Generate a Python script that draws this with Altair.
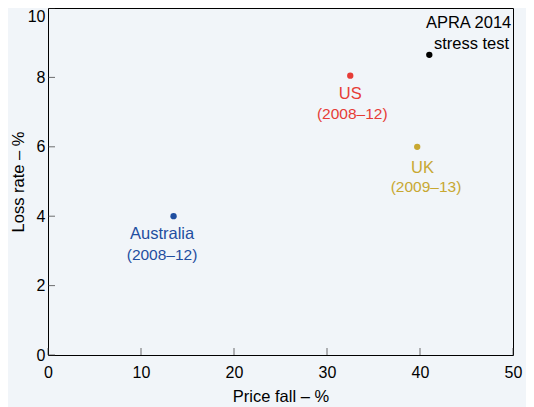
import altair as alt
import pandas as pd

# ---- data ----
regions = ["Australia", "US", "UK", "APRA 2014"]
periods = ["(2008–12)", "(2008–12)", "(2009–13)", "stress test"]
price_fall = [13.5, 32.5, 39.7, 41.0]
loss_rate = [4.0, 8.05, 6.0, 8.65]
x_ticks = [0, 10, 20, 30, 40, 50]
y_ticks = [0, 2, 4, 6, 8, 10]

colors = ["#1f4ea0", "#e63c37", "#c8a832", "#000000"]

df = pd.DataFrame({"region": regions, "period": periods,
                   "price": price_fall, "loss": loss_rate})
xt = pd.DataFrame({"v": x_ticks})
yt = pd.DataFrame({"v": y_ticks})

W, H = 465, 347
FONT = "Liberation Sans"
BG = "#f1f5f9"

xs = alt.Scale(domain=[0, 50], nice=False, zero=False)
ys = alt.Scale(domain=[0, 10], nice=False, zero=False)

xaxis = alt.Axis(values=x_ticks, title="Price fall – %", labelPadding=9,
                 titlePadding=8, format="d", labelFlush=False)
yaxis = alt.Axis(values=y_ticks, title="Loss rate – %", labelPadding=3,
                 titlePadding=1, format="d", labelFlush=False,
                 labelBaseline={"expr": "datum.value == 10 ? 'top' : 'middle'"})

points = alt.Chart(df).mark_circle(size=40, opacity=1).encode(
    x=alt.X("price:Q", scale=xs, axis=xaxis),
    y=alt.Y("loss:Q", scale=ys, axis=yaxis),
    color=alt.Color("region:N", scale=alt.Scale(domain=regions, range=colors),
                    legend=None),
)

# label styling per region: (dx_name, dy_name, dx_period, dy_period)
label_style = {
    "Australia": (-11.5, 23, -11.5, 43.3),
    "US": (0, 23.5, 2, 43.3),
    "UK": (5.3, 25.7, 8.8, 44.7),
    "APRA 2014": (39.3, -27.3, 42.2, -5.7),
}

layers = [points]
for r, c in zip(regions, colors):
    dxn, dyn, dxp, dyp = label_style[r]
    sub = alt.Chart(df).transform_filter(alt.datum.region == r)
    name_size = 16.5
    per_size = 16.5 if r == "APRA 2014" else 15.5
    layers.append(sub.mark_text(dx=dxn, dy=dyn, baseline="alphabetic", align="center",
                                font=FONT, fontSize=name_size, color=c).encode(
        x=alt.X("price:Q", scale=xs), y=alt.Y("loss:Q", scale=ys), text="region:N"))
    layers.append(sub.mark_text(dx=dxp, dy=dyp, baseline="alphabetic", align="center",
                                font=FONT, fontSize=per_size, color=c).encode(
        x=alt.X("price:Q", scale=xs), y=alt.Y("loss:Q", scale=ys), text="period:N"))

# inward ticks
ytick_marks = alt.Chart(yt).mark_tick(orient="horizontal", size=7, thickness=1,
                                      color="#333333").encode(
    y=alt.Y("v:Q", scale=ys), x=alt.value(3.5))
xtick_marks = alt.Chart(xt).mark_tick(orient="vertical", size=7, thickness=1,
                                      color="#333333").encode(
    x=alt.X("v:Q", scale=xs), y=alt.value(H - 3.5))
layers += [ytick_marks, xtick_marks]

chart = alt.layer(*layers).properties(
    width=W, height=H,
    autosize=alt.AutoSizeParams(type="none"),
    padding={"left": 40, "top": 0, "right": 13, "bottom": 52},
    background=BG,
).configure_view(
    stroke="#000000", strokeWidth=1, fill=BG,
).configure_axis(
    grid=False, ticks=False, domain=False,
    labelFont=FONT, labelFontSize=16, labelColor="#000000",
    titleFont=FONT, titleFontSize=16.5, titleFontWeight="normal", titleColor="#000000",
)

chart.save("out.html", embed_options={"renderer": "svg", "actions": False})
